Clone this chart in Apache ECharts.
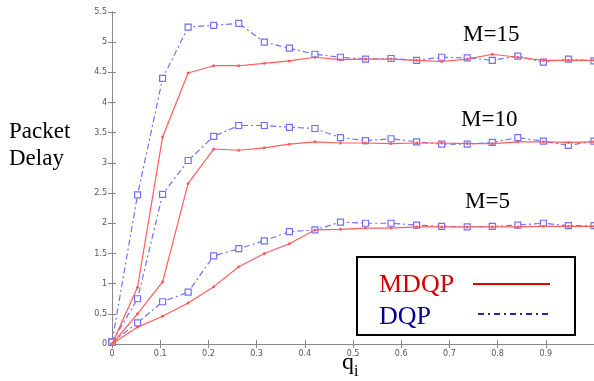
<!DOCTYPE html>
<html>
<head>
<meta charset="utf-8">
<script src="https://cdn.jsdelivr.net/npm/echarts@6/dist/echarts.min.js"></script>
<style>
  html, body { margin: 0; padding: 0; background: #fff; }
  #chart { width: 594px; height: 381px; }
</style>
</head>
<body>
<div id="chart"></div>
<script>
// q_i sample points
const qi = [0, 0.053, 0.105, 0.158, 0.211, 0.263, 0.316, 0.368, 0.421, 0.474,
  0.526, 0.579, 0.632, 0.684, 0.737, 0.789, 0.842, 0.895, 0.947, 1.0]

// packet delay, MDQP (solid red)
const mdqpM15 = [0, 0.94, 3.43, 4.49, 4.61, 4.61, 4.65, 4.69, 4.75, 4.71,
  4.72, 4.72, 4.70, 4.68, 4.72, 4.80, 4.75, 4.70, 4.70, 4.70]
const mdqpM10 = [0, 0.5, 1.03, 2.66, 3.23, 3.21, 3.25, 3.31, 3.35, 3.33,
  3.33, 3.32, 3.33, 3.33, 3.32, 3.32, 3.35, 3.35, 3.34, 3.35]
const mdqpM5 = [0, 0.28, 0.46, 0.68, 0.95, 1.28, 1.50, 1.66, 1.89, 1.90,
  1.92, 1.92, 1.94, 1.94, 1.94, 1.94, 1.94, 1.95, 1.95, 1.95]

// packet delay, DQP (dash-dot blue, square markers)
const dqpM15 = [0.03, 2.47, 4.40, 5.25, 5.28, 5.31, 5.00, 4.90, 4.80, 4.75,
  4.72, 4.73, 4.70, 4.75, 4.74, 4.70, 4.77, 4.67, 4.72, 4.69]
const dqpM10 = [0.03, 0.75, 2.48, 3.04, 3.44, 3.62, 3.62, 3.59, 3.57, 3.42,
  3.37, 3.40, 3.35, 3.31, 3.31, 3.34, 3.42, 3.36, 3.29, 3.36]
const dqpM5 = [0.03, 0.35, 0.70, 0.86, 1.46, 1.58, 1.71, 1.86, 1.89, 2.02,
  2.00, 2.00, 1.97, 1.95, 1.94, 1.95, 1.97, 2.00, 1.96, 1.96]

const curveLabels = ['M=15', 'M=10', 'M=5']

const RED = '#ff5c5c'
const BLUE = '#7070ff'
const SERIF = '"Liberation Serif", "DejaVu Serif", serif'

function pairs(ys) {
  return ys.map((y, i) => [qi[i], y])
}

function mdqp(ys) {
  return {
    name: 'MDQP',
    type: 'line',
    data: pairs(ys),
    symbol: 'circle',
    symbolSize: 3,
    lineStyle: { color: RED, width: 1.2 },
    itemStyle: { color: RED },
    animation: false,
    z: 3
  }
}

function dqp(ys) {
  return {
    name: 'DQP',
    type: 'line',
    data: pairs(ys),
    symbol: 'rect',
    symbolSize: 6,
    lineStyle: { color: BLUE, width: 1.2, type: [6, 3, 2, 3] },
    itemStyle: { color: '#fff', borderColor: BLUE, borderWidth: 1.2 },
    animation: false,
    z: 2
  }
}

const tickLabel = { color: '#555', fontSize: 8, fontFamily: 'DejaVu Sans, sans-serif' }
const axisLine = { lineStyle: { color: '#888', width: 1 } }
const axisTick = { inside: true, length: 4, lineStyle: { color: '#888' } }

const chart = echarts.init(document.getElementById('chart'))
chart.setOption({
  animation: false,
  grid: { left: 112, right: 0, top: 12, bottom: 37 },
  xAxis: [
    {
      type: 'value', min: 0, max: 1, interval: 0.1,
      axisLine: axisLine, axisTick: axisTick,
      axisLabel: Object.assign({ margin: 6, showMaxLabel: false }, tickLabel),
      splitLine: { show: false }
    },
    {
      type: 'value', position: 'top', min: 0, max: 1, interval: 0.1,
      axisLine: axisLine, axisTick: axisTick,
      axisLabel: { show: false }, splitLine: { show: false }
    }
  ],
  yAxis: [
    {
      type: 'value', min: 0, max: 5.5, interval: 0.5,
      axisLine: axisLine, axisTick: axisTick,
      axisLabel: Object.assign({ margin: 5 }, tickLabel),
      splitLine: { show: false }
    },
    {
      type: 'value', position: 'right', min: 0, max: 5.5, interval: 0.5,
      axisLine: axisLine, axisTick: axisTick,
      axisLabel: { show: false }, splitLine: { show: false }
    }
  ],
  series: [
    dqp(dqpM15), dqp(dqpM10), dqp(dqpM5),
    mdqp(mdqpM15), mdqp(mdqpM10), mdqp(mdqpM5)
  ],
  graphic: [
    // y-axis title
    { type: 'text', left: 9, top: 118, style: { text: 'Packet\nDelay', font: '23px ' + SERIF, fill: '#000', lineHeight: 27 } },
    // x-axis title q_i
    { type: 'text', left: 342, top: 351, style: { text: 'q', font: '24px ' + SERIF, fill: '#000' } },
    { type: 'text', left: 354, top: 364, style: { text: 'i', font: '16px ' + SERIF, fill: '#000' } },
    // curve group labels
    { type: 'text', left: 463, top: 23, style: { text: curveLabels[0], font: '23px ' + SERIF, fill: '#000' } },
    { type: 'text', left: 461, top: 108, style: { text: curveLabels[1], font: '23px ' + SERIF, fill: '#000' } },
    { type: 'text', left: 465, top: 190, style: { text: curveLabels[2], font: '23px ' + SERIF, fill: '#000' } },
    // legend box
    { type: 'rect', shape: { x: 357, y: 257, width: 218, height: 78 }, style: { fill: '#fff', stroke: '#000', lineWidth: 2 }, z: 10 },
    { type: 'text', left: 379, top: 272, z: 11, style: { text: 'MDQP', font: '26px ' + SERIF, fill: '#d40000' } },
    { type: 'text', left: 379, top: 304, z: 11, style: { text: 'DQP', font: '26px ' + SERIF, fill: '#000090' } },
    { type: 'line', z: 11, shape: { x1: 473, y1: 284, x2: 550, y2: 284 }, style: { stroke: '#e00000', lineWidth: 2 } },
    { type: 'line', z: 11, shape: { x1: 478, y1: 314, x2: 552, y2: 314 }, style: { stroke: '#2a2aa0', lineWidth: 2, lineDash: [6, 4, 2, 4] } }
  ]
})
</script>
</body>
</html>
